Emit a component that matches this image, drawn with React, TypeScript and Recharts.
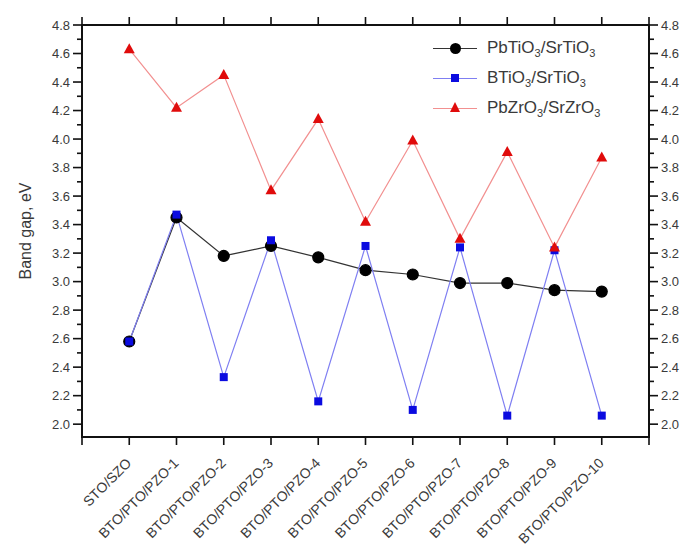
import { Legend, Line, LineChart, ReferenceArea, XAxis, YAxis } from 'recharts'

// ── Data ──

const categories = [
  'STO/SZO',
  'BTO/PTO/PZO-1',
  'BTO/PTO/PZO-2',
  'BTO/PTO/PZO-3',
  'BTO/PTO/PZO-4',
  'BTO/PTO/PZO-5',
  'BTO/PTO/PZO-6',
  'BTO/PTO/PZO-7',
  'BTO/PTO/PZO-8',
  'BTO/PTO/PZO-9',
  'BTO/PTO/PZO-10',
]

const pbTiO3 = [2.58, 3.45, 3.18, 3.25, 3.17, 3.08, 3.05, 2.99, 2.99, 2.94, 2.93]
const bTiO3 = [2.58, 3.47, 2.33, 3.29, 2.16, 3.25, 2.1, 3.24, 2.06, 3.22, 2.06]
const pbZrO3 = [4.63, 4.22, 4.45, 3.64, 4.14, 3.42, 3.99, 3.3, 3.91, 3.24, 3.87]

const xTicks = [0, 1, 2, 3, 4, 5, 6, 7, 8, 9, 10, 11, 12]
const yMajorTicks = [2.0, 2.2, 2.4, 2.6, 2.8, 3.0, 3.2, 3.4, 3.6, 3.8, 4.0, 4.2, 4.4, 4.6, 4.8]
const yMinorTicks = [2.1, 2.3, 2.5, 2.7, 2.9, 3.1, 3.3, 3.5, 3.7, 3.9, 4.1, 4.3, 4.5, 4.7]

const X_MIN = 0
const X_MAX = 12
const Y_MIN = 1.91
const Y_MAX = 4.8

const data = categories.map((name, i) => ({
  x: i + 1,
  name,
  pbTiO3: pbTiO3[i],
  bTiO3: bTiO3[i],
  pbZrO3: pbZrO3[i],
}))

// ── Styles ──

const FONT = 'Arial, "Liberation Sans", sans-serif'
const TEXT = '#3a3a3a'
const AXIS = '#111111'

const BLACK = '#000000'
const BLACK_LINE = '#333333'
const BLUE = '#0b0be0'
const BLUE_LINE = '#7f7ff2'
const RED = '#e00b0b'
const RED_LINE = '#f29090'

const yTicks = [...yMajorTicks, ...yMinorTicks].sort((a, b) => a - b)
const isMajor = (v: number) => yMajorTicks.some((t) => Math.abs(t - v) < 1e-6)

const axisLineStyle = { stroke: AXIS, strokeWidth: 2, strokeOpacity: 1, strokeDasharray: 'none' }

// ── Ticks (tickSize/tickMargin 0 → x,y sit on the axis line); marks drawn as filled rects ──

function LeftTick(props: any) {
  const { x, y, payload } = props
  const len = isMajor(payload.value) ? 9 : 5
  return (
    <g>
      <rect fill={AXIS} height={1.6} width={len} x={x - len} y={y - 0.8} />
      {len === 9 && (
        <text dy="0.35em" fill={TEXT} fontFamily={FONT} fontSize={13} textAnchor="end" x={x - 12} y={y}>
          {payload.value.toFixed(1)}
        </text>
      )}
    </g>
  )
}

function RightTick(props: any) {
  const { x, y, payload } = props
  const len = isMajor(payload.value) ? 9 : 5
  return (
    <g>
      <rect fill={AXIS} height={1.6} width={len} x={x} y={y - 0.8} />
      {len === 9 && (
        <text dy="0.35em" fill={TEXT} fontFamily={FONT} fontSize={13} textAnchor="start" x={x + 12} y={y}>
          {payload.value.toFixed(1)}
        </text>
      )}
    </g>
  )
}

function BottomTick(props: any) {
  const { x, y, payload } = props
  const label = categories[payload.value - 1]
  return (
    <g>
      <rect fill={AXIS} height={8} width={1.6} x={x - 0.8} y={y} />
      {label && (
        <text
          fill={TEXT}
          fontFamily={FONT}
          fontSize={14}
          textAnchor="end"
          transform={`translate(${x + 3},${y + 27}) rotate(-45)`}
        >
          {label}
        </text>
      )}
    </g>
  )
}

function TopTick(props: any) {
  const { x, y } = props
  return <rect fill={AXIS} height={8} width={1.6} x={x - 0.8} y={y - 8} />
}

// ── Markers ──

function SquareDot(props: any) {
  const { cx, cy, index } = props
  if (cx == null || cy == null) return null
  return <rect fill={BLUE} height={8} key={`sq-${index}`} width={8} x={cx - 4} y={cy - 4} />
}

function TriangleDot(props: any) {
  const { cx, cy, index } = props
  if (cx == null || cy == null) return null
  return (
    <polygon
      fill={RED}
      key={`tri-${index}`}
      points={`${cx},${cy - 6} ${cx - 5.5},${cy + 4} ${cx + 5.5},${cy + 4}`}
    />
  )
}

// ── Legend ──

const legendItems = [
  { key: 'pbTiO3', parts: ['PbTiO', '/SrTiO'], line: BLACK_LINE, marker: 'circle' },
  { key: 'bTiO3', parts: ['BTiO', '/SrTiO'], line: BLUE_LINE, marker: 'square' },
  { key: 'pbZrO3', parts: ['PbZrO', '/SrZrO'], line: RED_LINE, marker: 'triangle' },
]

function markerStyle(type: string): React.CSSProperties {
  if (type === 'circle') {
    return { position: 'absolute', left: 16.5, top: 4.5, width: 11, height: 11, borderRadius: '50%', background: BLACK }
  }
  if (type === 'square') {
    return { position: 'absolute', left: 18, top: 6, width: 8, height: 8, background: BLUE }
  }
  return {
    position: 'absolute',
    left: 16.5,
    top: 4,
    width: 0,
    height: 0,
    borderLeft: '5.5px solid transparent',
    borderRight: '5.5px solid transparent',
    borderBottom: `10px solid ${RED}`,
  }
}

function renderLegend() {
  const sub = { fontSize: 11, lineHeight: 0, verticalAlign: 'sub' as const }
  return (
    <div style={{ fontFamily: FONT, fontSize: 17, color: TEXT }}>
      {legendItems.map((item) => (
        <div key={item.key} style={{ alignItems: 'center', display: 'flex', height: 30 }}>
          <div style={{ position: 'relative', width: 44, height: 20, flex: 'none' }}>
            <div style={{ position: 'absolute', left: 0, top: 9.5, width: 44, height: 1.2, background: item.line }} />
            <div style={markerStyle(item.marker)} />
          </div>
          <span style={{ marginLeft: 10, whiteSpace: 'nowrap' }}>
            {item.parts[0]}
            <span style={sub}>3</span>
            {item.parts[1]}
            <span style={sub}>3</span>
          </span>
        </div>
      ))}
    </div>
  )
}

// half a frame-line thickness, in data units of each axis
const HX = 0.021
const HY = 0.007

export default function App() {
  return (
    <div style={{ position: 'absolute', left: 0, top: 0 }}>
      <LineChart data={data} height={547} margin={{ top: 0, right: 0, bottom: 0, left: 0 }} width={686}>
        <XAxis
          axisLine={axisLineStyle}
          dataKey="x"
          domain={[X_MIN, X_MAX]}
          height={110}
          interval={0}
          tick={<BottomTick />}
          tickLine={false}
          tickMargin={0}
          tickSize={0}
          ticks={xTicks}
          type="number"
        />
        <XAxis
          axisLine={axisLineStyle}
          dataKey="x"
          domain={[X_MIN, X_MAX]}
          height={25}
          interval={0}
          orientation="top"
          tick={<TopTick />}
          tickLine={false}
          tickMargin={0}
          tickSize={0}
          ticks={xTicks}
          type="number"
          xAxisId="top"
        />
        <YAxis
          axisLine={axisLineStyle}
          domain={[Y_MIN, Y_MAX]}
          interval={0}
          label={{
            value: 'Band gap, eV',
            angle: -90,
            position: 'insideLeft',
            offset: 25,
            style: { textAnchor: 'middle', fontSize: 16, fill: TEXT, fontFamily: FONT },
          }}
          tick={<LeftTick />}
          tickLine={false}
          tickMargin={0}
          tickSize={0}
          ticks={yTicks}
          type="number"
          width={82}
        />
        <YAxis
          axisLine={axisLineStyle}
          domain={[Y_MIN, Y_MAX]}
          interval={0}
          orientation="right"
          tick={<RightTick />}
          tickLine={false}
          tickMargin={0}
          tickSize={0}
          ticks={yTicks}
          type="number"
          width={37}
          yAxisId="right"
        />
        {/* plot frame as thin filled bands on the axis lines */}
        <ReferenceArea fill={AXIS} fillOpacity={1} ifOverflow="visible" stroke="none" x1={X_MIN - HX} x2={X_MIN + HX} y1={Y_MIN - HY} y2={Y_MAX + HY} />
        <ReferenceArea fill={AXIS} fillOpacity={1} ifOverflow="visible" stroke="none" x1={X_MAX - HX} x2={X_MAX + HX} y1={Y_MIN - HY} y2={Y_MAX + HY} />
        <ReferenceArea fill={AXIS} fillOpacity={1} ifOverflow="visible" stroke="none" x1={X_MIN - HX} x2={X_MAX + HX} y1={Y_MAX - HY} y2={Y_MAX + HY} />
        <ReferenceArea fill={AXIS} fillOpacity={1} ifOverflow="visible" stroke="none" x1={X_MIN - HX} x2={X_MAX + HX} y1={Y_MIN - HY} y2={Y_MIN + HY} />
        <Legend
          align="center"
          content={renderLegend}
          layout="vertical"
          verticalAlign="middle"
          wrapperStyle={{ top: 33, left: 433, width: 220 }}
        />
        {/* invisible series so the top and right axes get data and draw their ticks */}
        <Line
          activeDot={false}
          dataKey="pbTiO3"
          dot={false}
          isAnimationActive={false}
          legendType="none"
          stroke="none"
          xAxisId="top"
          yAxisId="right"
        />
        <Line
          dataKey="pbTiO3"
          dot={{ r: 5.5, fill: BLACK, stroke: BLACK }}
          isAnimationActive={false}
          stroke={BLACK_LINE}
          strokeWidth={1.2}
        />
        <Line dataKey="bTiO3" dot={SquareDot} isAnimationActive={false} stroke={BLUE_LINE} strokeWidth={1.2} />
        <Line dataKey="pbZrO3" dot={TriangleDot} isAnimationActive={false} stroke={RED_LINE} strokeWidth={1.2} />
      </LineChart>
    </div>
  )
}
